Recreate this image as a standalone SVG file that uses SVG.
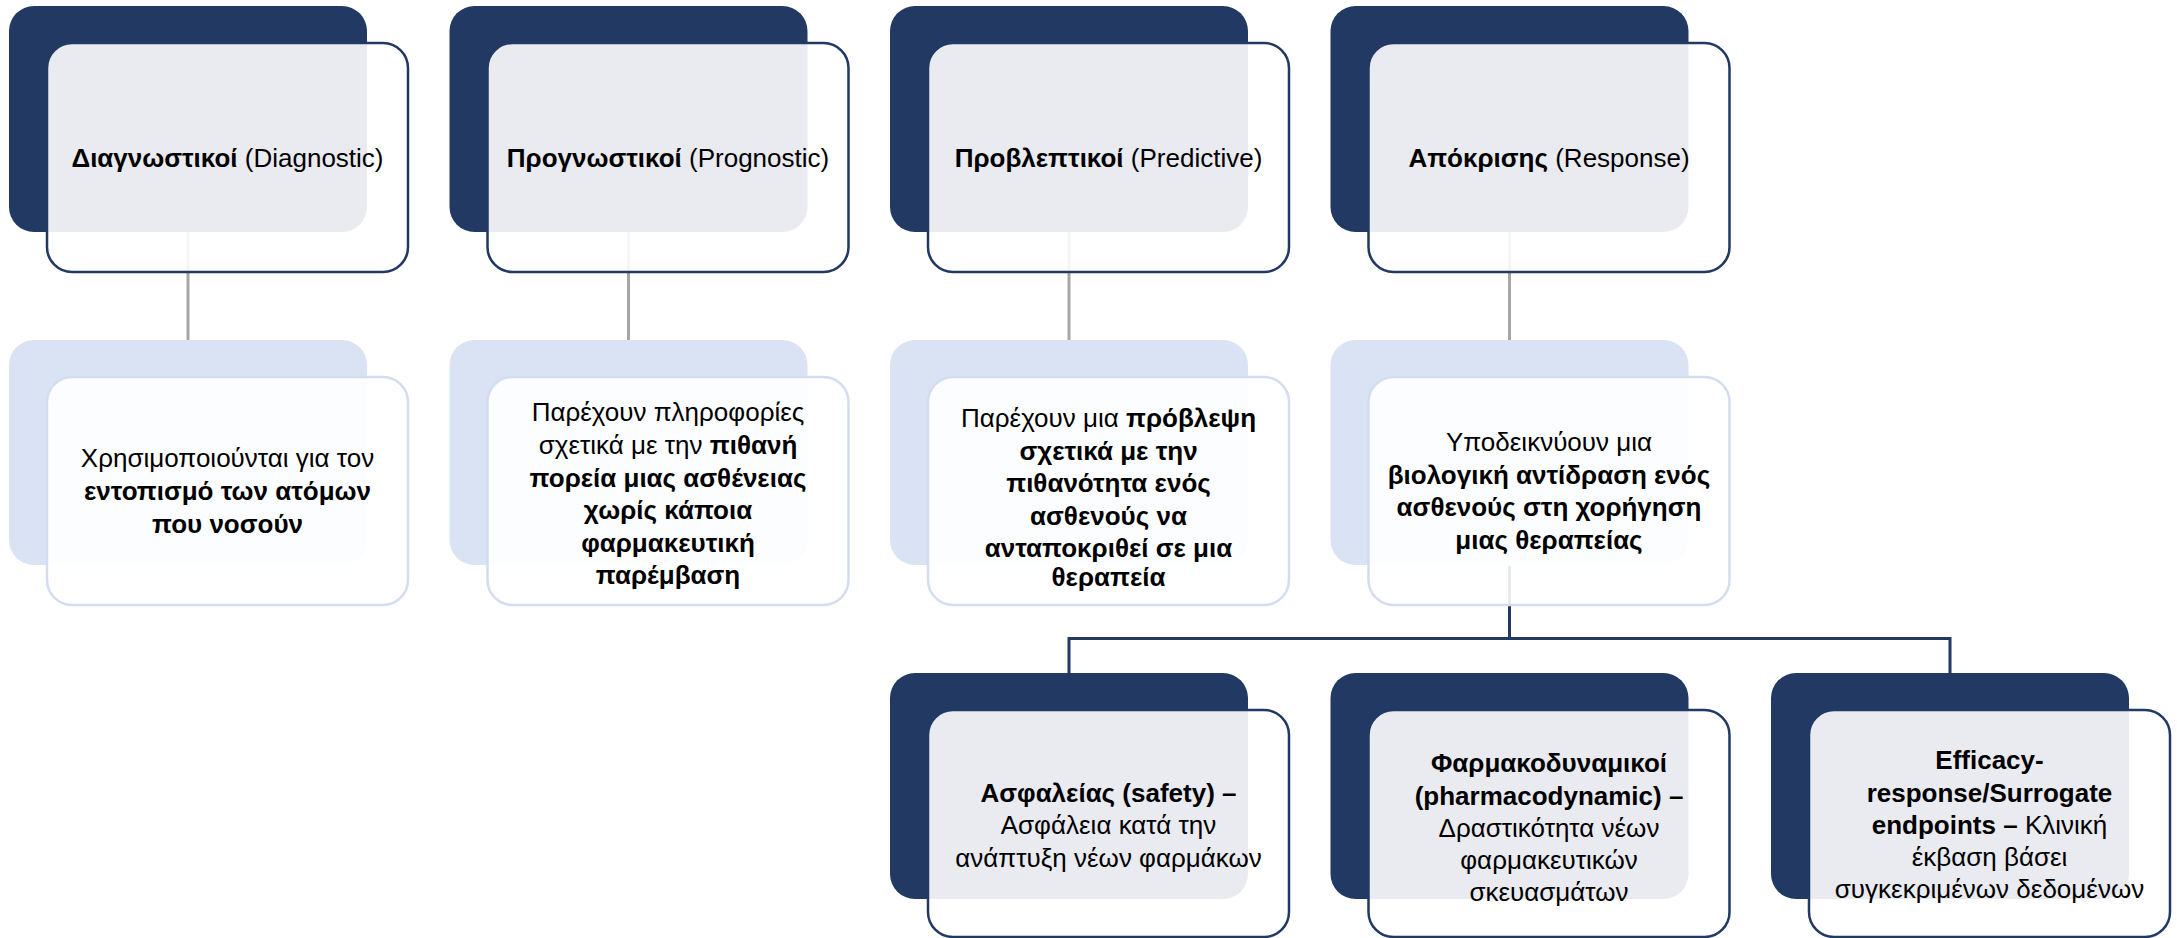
<svg xmlns="http://www.w3.org/2000/svg" width="2177" height="938" viewBox="0 0 2177 938">
<style>
.bgD{fill:#213963}
.bgL{fill:#DAE3F3}
.frD{fill:#FFFFFF;fill-opacity:0.9;stroke:#213963;stroke-width:2.5}
.frL{fill:#FFFFFF;fill-opacity:0.9;stroke:#D3DDEF;stroke-width:2.5}
.t{font-family:"Liberation Sans","Noto Sans",Arial,sans-serif;font-size:26px;fill:#000;text-anchor:middle}
.b{font-weight:bold}
.cg{stroke:#A6A6A6;stroke-width:3;fill:none}
.cd{stroke:#213963;stroke-width:3;fill:none}
</style>
<rect width="2177" height="938" fill="#FFFFFF"/>
<g id="connectors">
<line class="cg" x1="188" y1="231" x2="188" y2="340"/>
<line class="cg" x1="628.5" y1="231" x2="628.5" y2="340"/>
<line class="cg" x1="1069" y1="231" x2="1069" y2="340"/>
<line class="cg" x1="1509.5" y1="231" x2="1509.5" y2="340"/>
<path class="cd" d="M1509.5 566 V638.5 M1069 673 V638.5 H1950 V673"/>
</g>
<g id="n1">
<rect class="bgD" x="9" y="6" width="358" height="226" rx="25"/>
<rect class="frD" x="47" y="43" width="361" height="229" rx="25"/>
<text class="t" x="227.5" y="167"><tspan class="b">Διαγνωστικοί</tspan> (Diagnostic)</text>
</g>
<g id="n2">
<rect class="bgD" x="449.5" y="6" width="358" height="226" rx="25"/>
<rect class="frD" x="487.5" y="43" width="361" height="229" rx="25"/>
<text class="t" x="668" y="167"><tspan class="b">Προγνωστικοί</tspan> (Prognostic)</text>
</g>
<g id="n3">
<rect class="bgD" x="890" y="6" width="358" height="226" rx="25"/>
<rect class="frD" x="928" y="43" width="361" height="229" rx="25"/>
<text class="t" x="1108.5" y="167"><tspan class="b">Προβλεπτικοί</tspan> (Predictive)</text>
</g>
<g id="n4">
<rect class="bgD" x="1330.5" y="6" width="358" height="226" rx="25"/>
<rect class="frD" x="1368.5" y="43" width="361" height="229" rx="25"/>
<text class="t" x="1549" y="167"><tspan class="b">Απόκρισης</tspan> (Response)</text>
</g>
<g id="n5">
<rect class="bgL" x="9" y="340" width="358" height="225" rx="25"/>
<rect class="frL" x="47" y="377" width="361" height="228" rx="25"/>
<text class="t" x="227.5" y="467">Χρησιμοποιούνται για τον</text>
<text class="t b" x="227.5" y="500">εντοπισμό των ατόμων</text>
<text class="t b" x="227.5" y="533">που νοσούν</text>
</g>
<g id="n6">
<rect class="bgL" x="449.5" y="340" width="358" height="225" rx="25"/>
<rect class="frL" x="487.5" y="377" width="361" height="228" rx="25"/>
<text class="t" x="668" y="421">Παρέχουν πληροφορίες</text>
<text class="t" x="668" y="454">σχετικά με την <tspan class="b">πιθανή</tspan></text>
<text class="t b" x="668" y="487">πορεία μιας ασθένειας</text>
<text class="t b" x="668" y="519">χωρίς κάποια</text>
<text class="t b" x="668" y="552">φαρμακευτική</text>
<text class="t b" x="668" y="584">παρέμβαση</text>
</g>
<g id="n7">
<rect class="bgL" x="890" y="340" width="358" height="225" rx="25"/>
<rect class="frL" x="928" y="377" width="361" height="228" rx="25"/>
<text class="t" x="1108.5" y="427">Παρέχουν μια <tspan class="b">πρόβλεψη</tspan></text>
<text class="t b" x="1108.5" y="460">σχετικά με την</text>
<text class="t b" x="1108.5" y="492">πιθανότητα ενός</text>
<text class="t b" x="1108.5" y="525">ασθενούς να</text>
<text class="t b" x="1108.5" y="557">ανταποκριθεί σε μια</text>
<text class="t b" x="1108.5" y="586">θεραπεία</text>
</g>
<g id="n8">
<rect class="bgL" x="1330.5" y="340" width="358" height="225" rx="25"/>
<rect class="frL" x="1368.5" y="377" width="361" height="228" rx="25"/>
<text class="t" x="1549" y="451">Υποδεικνύουν μια</text>
<text class="t b" x="1549" y="484">βιολογική αντίδραση ενός</text>
<text class="t b" x="1549" y="516">ασθενούς στη χορήγηση</text>
<text class="t b" x="1549" y="549">μιας θεραπείας</text>
</g>
<g id="n9">
<rect class="bgD" x="890" y="673" width="358" height="226" rx="25"/>
<rect class="frD" x="928" y="710" width="361" height="227" rx="25"/>
<text class="t" x="1108.5" y="802"><tspan class="b">Ασφαλείας (safety) –</tspan></text>
<text class="t" x="1108.5" y="834">Ασφάλεια κατά την</text>
<text class="t" x="1108.5" y="867">ανάπτυξη νέων φαρμάκων</text>
</g>
<g id="n10">
<rect class="bgD" x="1330.5" y="673" width="358" height="226" rx="25"/>
<rect class="frD" x="1368.5" y="710" width="361" height="227" rx="25"/>
<text class="t b" x="1549" y="772">Φαρμακοδυναμικοί</text>
<text class="t b" x="1549" y="805">(pharmacodynamic) –</text>
<text class="t" x="1549" y="837">Δραστικότητα νέων</text>
<text class="t" x="1549" y="869">φαρμακευτικών</text>
<text class="t" x="1549" y="901">σκευασμάτων</text>
</g>
<g id="n11">
<rect class="bgD" x="1771" y="673" width="358" height="226" rx="25"/>
<rect class="frD" x="1809" y="710" width="361" height="227" rx="25"/>
<text class="t b" x="1989.5" y="769">Efficacy-</text>
<text class="t b" x="1989.5" y="802">response/Surrogate</text>
<text class="t" x="1989.5" y="834"><tspan class="b">endpoints –</tspan> Κλινική</text>
<text class="t" x="1989.5" y="866">έκβαση βάσει</text>
<text class="t" x="1989.5" y="898">συγκεκριμένων δεδομένων</text>
</g>
</svg>
